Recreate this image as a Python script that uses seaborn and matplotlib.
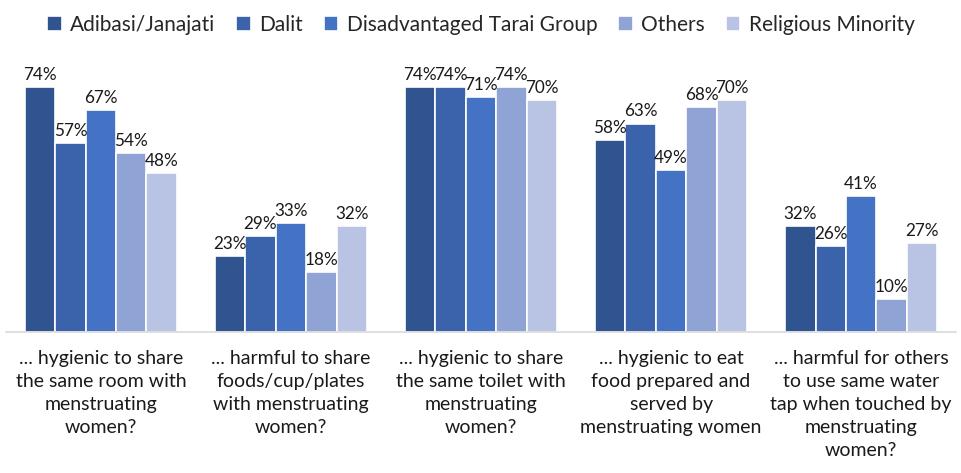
import pandas as pd
import matplotlib
matplotlib.use("Agg")
import matplotlib.pyplot as plt
import seaborn as sns


# -------------------- DATA --------------------
questions = [
    "... hygienic to share\nthe same room with\nmenstruating\nwomen?",
    "... harmful to share\nfoods/cup/plates\nwith menstruating\nwomen?",
    "... hygienic to share\nthe same toilet with\nmenstruating\nwomen?",
    "... hygienic to eat\nfood prepared and\nserved by\nmenstruating women",
    "... harmful for others\nto use same water\ntap when touched by\nmenstruating\nwomen?",
]
groups = ["Adibasi/Janajati", "Dalit", "Disadvantaged Tarai Group", "Others", "Religious Minority"]

adibasi = [74, 23, 74, 58, 32]
dalit = [57, 29, 74, 63, 26]
tarai = [67, 33, 71, 49, 41]
others = [54, 18, 74, 68, 10]
religious = [48, 32, 70, 70, 27]

colors = ["#30548F", "#3B63AC", "#4472C4", "#8FA4D4", "#B9C3E3"]


# -------------------- BUILD TABLE --------------------
def build_frame():
    rows = []
    for g, vals in zip(groups, [adibasi, dalit, tarai, others, religious]):
        for q, v in zip(questions, vals):
            rows.append({"Question": q, "Group": g, "Percent": v})
    return pd.DataFrame(rows)


# -------------------- PLOT --------------------
def plot(df):
    sns.set_style("white")
    plt.rcParams["font.family"] = ["Lato", "DejaVu Sans"]

    fig = plt.figure(figsize=(9.62, 4.73), dpi=100)
    ax = fig.add_axes([0.006, 0.298, 0.988, 0.575])

    sns.barplot(
        data=df, x="Question", y="Percent", hue="Group",
        hue_order=groups, palette=colors, width=0.8, saturation=1,
        edgecolor="white", linewidth=1.2, ax=ax, legend=True
    )

    for cont in ax.containers:
        ax.bar_label(cont, labels=[f"{b.get_height():.0f}%" for b in cont],
                     padding=3, fontsize=12.3, color="#1a1a1a")

    ax.set_ylim(0, 82.2)
    ax.set_xlim(-0.5, 4.5)
    ax.set_xlabel("")
    ax.set_ylabel("")
    ax.set_yticks([])
    ax.tick_params(axis="x", length=0, pad=13, labelsize=14, labelcolor="#1a1a1a")
    for lab in ax.get_xticklabels():
        lab.set_linespacing(1.42)
    sns.despine(ax=ax, left=True)
    ax.spines["bottom"].set_color("#D9D9D9")
    ax.spines["bottom"].set_linewidth(1.2)

    handles, labels = ax.get_legend_handles_labels()
    ax.get_legend().remove()
    fig.legend(handles, labels, loc="center", bbox_to_anchor=(0.5, 0.947), ncol=5,
               frameon=False, fontsize=15, handlelength=0.7, handleheight=0.7,
               handletextpad=0.4, columnspacing=1.0)

    fig.savefig("out.png", dpi=100)


def main():
    df = build_frame()
    plot(df)


if __name__ == "__main__":
    main()
